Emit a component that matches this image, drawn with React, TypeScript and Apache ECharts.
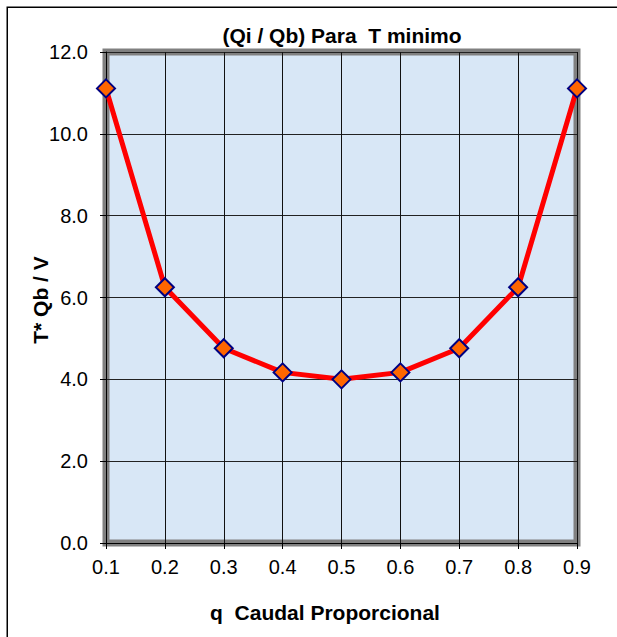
import React, { useEffect, useRef } from "react";
import * as echarts from "echarts";

const categories = ["0.1", "0.2", "0.3", "0.4", "0.5", "0.6", "0.7", "0.8", "0.9"];
const values = [11.11, 6.25, 4.76, 4.17, 4.0, 4.17, 4.76, 6.25, 11.11];
const yMin = 0;
const yMax = 12;
const yStep = 2;
const titleText = "(Qi / Qb) Para  T minimo";
const xName = "q  Caudal Proporcional";
const yName = "T* Qb / V";

const FONT = 'Arial, "Liberation Sans", sans-serif';

export default function App() {
  const ref = useRef<HTMLDivElement>(null);
  useEffect(() => {
    if (!ref.current) return;
    const chart = echarts.init(ref.current, null, { renderer: "svg" });
    chart.setOption({
      animation: false,
      backgroundColor: "#ffffff",
      grid: {
        left: 106,
        right: 40,
        top: 52,
        bottom: 94,
        show: true,
        backgroundColor: "#d8e7f6",
        borderColor: "#808080",
        borderWidth: 7,
      },
      xAxis: {
        type: "category",
        data: categories,
        boundaryGap: false,
        axisLine: { show: true, lineStyle: { color: "#000", width: 1 } },
        axisTick: { show: true, length: 6, alignWithLabel: true, lineStyle: { color: "#000" } },
        axisLabel: { color: "#000", fontSize: 20, fontFamily: FONT, margin: 14 },
        splitLine: { show: true, lineStyle: { color: "#111", width: 1 } },
      },
      yAxis: {
        type: "value",
        min: yMin,
        max: yMax,
        interval: yStep,
        axisLine: { show: true, lineStyle: { color: "#000", width: 1 } },
        axisTick: { show: true, length: 6, lineStyle: { color: "#000" } },
        axisLabel: {
          color: "#000",
          fontSize: 20,
          fontFamily: FONT,
          margin: 18,
          formatter: (v: number) => v.toFixed(1),
        },
        splitLine: { show: true, lineStyle: { color: "#222", width: 1 } },
      },
      series: [
        {
          type: "line",
          data: values,
          lineStyle: { color: "#ff0000", width: 5 },
          symbol: "diamond",
          symbolSize: 18,
          itemStyle: { color: "#ff6600", borderColor: "#000080", borderWidth: 2 },
          z: 5,
        },
      ],
      graphic: [
        {
          type: "rect",
          shape: { x: 7.25, y: 7.25, width: 700, height: 700 },
          style: { fill: "none", stroke: "#000", lineWidth: 1.5 },
          silent: true,
          z: -1,
        },
        {
          type: "text",
          x: 342,
          y: 35,
          style: {
            text: titleText,
            font: `bold 21px ${FONT}`,
            fill: "#000",
            align: "center",
            verticalAlign: "middle",
          },
        },
        {
          type: "text",
          x: 325,
          y: 612,
          style: {
            text: xName,
            font: `bold 21px ${FONT}`,
            fill: "#000",
            align: "center",
            verticalAlign: "middle",
          },
        },
        {
          type: "text",
          x: 40,
          y: 300,
          rotation: Math.PI / 2,
          style: {
            text: yName,
            font: `bold 21px ${FONT}`,
            fill: "#000",
            align: "center",
            verticalAlign: "middle",
          },
        },
      ],
    });
    return () => chart.dispose();
  }, []);
  return (
    <div
      ref={ref}
      style={{ position: "absolute", left: 0, top: 0, width: 617, height: 637 }}
    />
  );
}
